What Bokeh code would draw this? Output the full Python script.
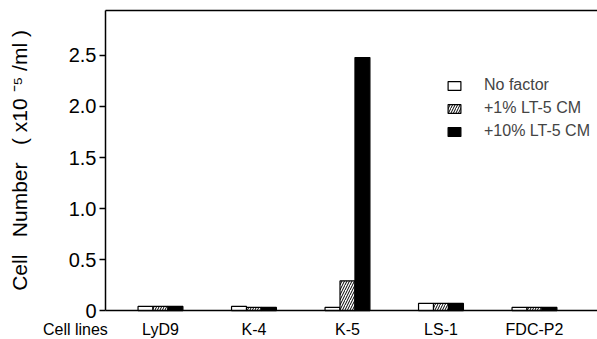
from bokeh.plotting import figure
from bokeh.models import (ColumnDataSource, FixedTicker, Range1d, LinearAxis,
                          Legend, LegendItem)
from bokeh.embed import file_html
from bokeh.resources import INLINE
import numpy as np

categories = ["LyD9", "K-4", "K-5", "LS-1", "FDC-P2"]
no_factor = [0.04, 0.04, 0.03, 0.07, 0.03]
lt5_1pct = [0.04, 0.03, 0.29, 0.07, 0.03]
lt5_10pct = [0.04, 0.03, 2.48, 0.07, 0.03]
y_ticks = [0, 0.5, 1.0, 1.5, 2.0, 2.5]
y_tick_labels = ["0", "0.5", "1.0", "1.5", "2.0", "2.5"]
row_title = "Cell lines"

FONT = "Liberation Sans"
xs = np.arange(len(categories)) * 1.0
bw = 0.16
X0, X1 = -0.588, 4.674      # plotted x extent (axis starts at X0)
YMAX = 2.94                 # top of the plot box
XLBL = -0.91                # position of the "Cell lines" row title

p = figure(width=597, height=339, output_backend="svg", toolbar_location=None,
           x_range=Range1d(-1.711, 4.674), y_range=Range1d(-0.284, 3.039),
           x_axis_location=None, y_axis_location=None,
           min_border_left=0, min_border_top=0, min_border_right=0,
           min_border_bottom=0)
p.outline_line_color = None
p.xgrid.visible = False
p.ygrid.visible = False

src1 = ColumnDataSource(dict(x=list(xs - bw), top=no_factor))
src2 = ColumnDataSource(dict(x=list(xs), top=lt5_1pct))
src3 = ColumnDataSource(dict(x=list(xs + bw), top=lt5_10pct))
r1 = p.vbar(x="x", top="top", width=bw, source=src1, fill_color="white",
            line_color="black", line_width=1.2)
r2 = p.vbar(x="x", top="top", width=bw, source=src2, fill_color="white",
            line_color="black", line_width=1.2, hatch_pattern="/",
            hatch_color="black", hatch_scale=5, hatch_weight=1)
r3 = p.vbar(x="x", top="top", width=bw, source=src3, fill_color="black",
            line_color="black", line_width=1.2)

# x axis with category labels
ov = {float(x): c for x, c in zip(xs, categories)}
ov.update({int(x): c for x, c in zip(xs, categories)})
xa = LinearAxis(fixed_location=0, bounds=(X0, X1),
                ticker=FixedTicker(ticks=list(xs)),
                major_label_overrides=ov,
                major_tick_line_color=None, minor_tick_line_color=None,
                major_tick_out=0, major_tick_in=0,
                axis_line_color="black", axis_line_width=1.5,
                major_label_text_font=FONT, major_label_text_font_size="16px",
                major_label_text_color="black", major_label_standoff=10)
p.add_layout(xa, "below")

# "Cell lines" row title on the same line as the category labels
xa2 = LinearAxis(fixed_location=0, ticker=FixedTicker(ticks=[XLBL]),
                 major_label_overrides={XLBL: row_title},
                 major_tick_line_color=None, minor_tick_line_color=None,
                 major_tick_out=0, major_tick_in=0,
                 axis_line_color=None,
                 major_label_text_font=FONT, major_label_text_font_size="16px",
                 major_label_text_color="black", major_label_standoff=10)
p.add_layout(xa2, "below")

# top border line of the plot box
xa3 = LinearAxis(fixed_location=YMAX, bounds=(X0, X1),
                 ticker=FixedTicker(ticks=[1.0]),
                 major_label_overrides={1.0: " ", 1: " "},
                 major_label_text_alpha=0,
                 major_tick_line_color=None, minor_tick_line_color=None,
                 major_tick_out=0, major_tick_in=0,
                 axis_line_color="black", axis_line_width=1.5)
p.add_layout(xa3, "below")

# y axis
yov = {t: l for t, l in zip(y_ticks, y_tick_labels)}
yov.update({0: "0", 1: "1.0", 2: "2.0"})
nb = "\u00a0"
ya = LinearAxis(fixed_location=X0, bounds=(0, YMAX),
                ticker=FixedTicker(ticks=y_ticks),
                major_label_overrides=yov,
                minor_tick_line_color=None,
                major_tick_out=6, major_tick_in=0, major_tick_line_width=1.3,
                axis_line_width=1.5,
                major_label_text_font=FONT, major_label_text_font_size="20px",
                major_label_text_color="black", major_label_standoff=3,
                axis_label=f"Cell{nb*3}Number{nb*3}({nb}x10{nb}\u207b\u2075{nb}/ml{nb})",
                axis_label_text_font=FONT, axis_label_text_font_size="21px",
                axis_label_text_font_style="normal",
                axis_label_text_color="black", axis_label_standoff=35)
p.add_layout(ya, "left")

legend = Legend(items=[LegendItem(label="No factor", renderers=[r1]),
                       LegendItem(label="+1% LT-5 CM", renderers=[r2]),
                       LegendItem(label="+10% LT-5 CM", renderers=[r3])],
                location=(446, 199), border_line_color=None,
                background_fill_alpha=0, label_text_font=FONT,
                label_text_font_size="16px", glyph_width=16, glyph_height=11,
                label_standoff=22, spacing=5, padding=6)
p.add_layout(legend)

open("out.html", "w").write(file_html(p, INLINE))
